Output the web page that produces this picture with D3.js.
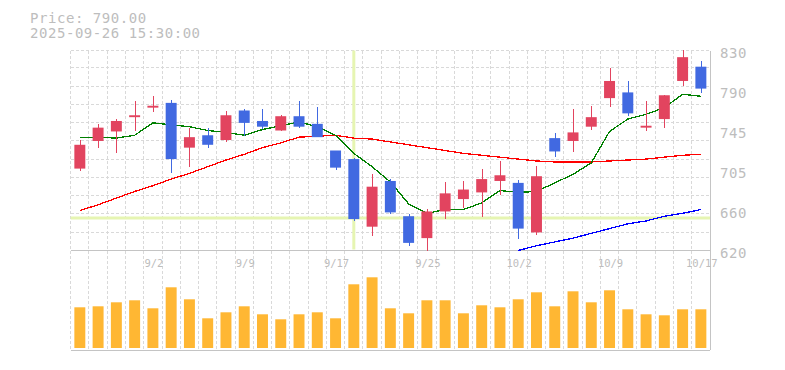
<!DOCTYPE html>
<html>
<head>
<meta charset="utf-8">
<script src="https://cdn.jsdelivr.net/npm/d3@7"></script>
<style>
  body { margin: 0; background: #fff; }
  text { font-family: "DejaVu Sans Mono", monospace; fill: #bdbdbd; }
</style>
</head>
<body>
<div id="chart"></div>
<script>
// data
var dates = ["8/27","8/28","8/29","9/1","9/2","9/3","9/4","9/5","9/8","9/9","9/10","9/11",
  "9/12","9/16","9/17","9/18","9/19","9/22","9/24","9/25","9/26","9/29","9/30","10/1",
  "10/2","10/3","10/6","10/7","10/8","10/9","10/10","10/14","10/15","10/16","10/17"];
var open  = [706,735,745,760,770,775,728,741,736,767,756,746,761,753,725,716,645,693,656,633,661,674,681,693,691,639,738,735,750,780,786,749,758,798,813];
var high  = [736,753,758,777,782,778,749,749,767,769,769,762,777,771,725,717,700,695,658,664,692,693,706,714,694,709,743,769,772,812,798,777,783,831,819];
var low   = [704,728,722,746,765,701,708,728,734,740,748,746,749,739,705,651,635,658,625,620,653,665,655,678,632,636,718,723,747,771,761,745,749,793,785];
var close = [731,749,756,762,772,716,739,731,762,754,750,761,750,739,707,653,687,660,628,661,680,684,695,699,643,698,724,744,760,798,764,751,783,823,790];
var volume = [40.7,41.7,45.7,47.7,39.7,60.7,48.7,29.7,35.7,41.7,33.7,28.7,33.7,35.7,29.7,63.7,70.7,39.7,34.7,47.7,47.7,34.7,42.7,40.7,48.7,55.7,41.7,56.7,45.7,57.7,38.7,33.7,32.7,38.7,38.7];
var ma5  = [739,739,738,741,754,752,750,746,744,741,747,751,755,750,741,722,708,692,669,659,663,663,670,683,681,682,691,700,712,745,758,763,770,784,782];
var ma25 = [662,668,675,682,688,695,701,708,715,721,728,733,739,740,741,738,737,734,731,728,725,722,720,718,716,714,713,713,713,714,715,716,718,720,721];
var ma75 = [null,null,null,null,null,null,null,null,null,null,null,null,null,null,null,null,null,null,null,null,null,null,null,null,
  620,625,629,633,638,643,648,651,656,659,663];
var xTicks = ["9/2","9/9","9/17","9/25","10/2","10/9","10/17"];
var yTicks = [620,662,704,746,788,830];
var cursorDate = "9/18";
var cursorPrice = 654;

var svgWidth = 785;
var svgHeight = 370;
var left = 70.7, right = 710;
var priceTop = 50.5, priceBottom = 250.5;
var volBottom = 348;

var svg = d3.select("#chart")
  .append("svg")
  .attr("width", svgWidth)
  .attr("height", svgHeight);

var x = d3.scaleBand()
  .domain(dates)
  .range([left, right])
  .paddingInner(0.4)
  .paddingOuter(0.2);
var step = x.step();
var cx = d => x(d) + x.bandwidth() / 2;

var y = d3.scaleLinear().domain([620, 830]).range([priceBottom, priceTop]);
var yVol = d3.scaleLinear().domain([0, 100]).range([volBottom, volBottom - 100]);

// grid
var grid = svg.append("g")
  .attr("stroke", "#d9d9d9")
  .attr("stroke-dasharray", "3,2")
  .attr("shape-rendering", "crispEdges");

d3.range(dates.length).forEach(function(i) {
  var gx = left + i * step;
  grid.append("line").attr("x1", gx).attr("x2", gx).attr("y1", priceTop).attr("y2", 350);
});
for (var gy = priceBottom - step; gy > priceTop + 2; gy -= step) {
  grid.append("line").attr("x1", left).attr("x2", right).attr("y1", gy).attr("y2", gy);
}
grid.append("line").attr("x1", left).attr("x2", right).attr("y1", priceTop).attr("y2", priceTop);

// cursor lines
svg.append("line")
  .attr("x1", cx(cursorDate)).attr("x2", cx(cursorDate))
  .attr("y1", priceTop).attr("y2", priceBottom - 1)
  .attr("stroke", "#e6f5b2").attr("stroke-width", 3);
svg.append("line")
  .attr("x1", left).attr("x2", right)
  .attr("y1", y(cursorPrice)).attr("y2", y(cursorPrice))
  .attr("stroke", "#e6f5b2").attr("stroke-width", 3);

// axis frame
var frame = svg.append("g").attr("stroke", "#c4c4c4").attr("shape-rendering", "crispEdges");
frame.append("line").attr("x1", left).attr("x2", right).attr("y1", priceBottom).attr("y2", priceBottom);
frame.append("line").attr("x1", left).attr("x2", right).attr("y1", 350).attr("y2", 350);
frame.append("line").attr("x1", right).attr("x2", right).attr("y1", priceTop).attr("y2", 350);

// moving averages
function maLine(vals, color) {
  var line = d3.line()
    .defined(d => d[1] != null)
    .x(d => cx(d[0]))
    .y(d => y(d[1]));
  svg.append("path")
    .datum(dates.map((d, i) => [d, vals[i]]))
    .attr("d", line)
    .attr("fill", "none")
    .attr("stroke", color)
    .attr("stroke-width", 1.3)
    .attr("shape-rendering", "crispEdges");
}
maLine(ma25, "#ff0000");
maLine(ma75, "#0000ff");
maLine(ma5, "#008000");

// candles
var candles = svg.append("g").selectAll("g")
  .data(dates)
  .enter().append("g");

candles.append("line")
  .attr("x1", d => Math.round(cx(d)) + 0.5)
  .attr("x2", d => Math.round(cx(d)) + 0.5)
  .attr("y1", (d, i) => y(high[i]))
  .attr("y2", (d, i) => y(low[i]))
  .attr("stroke", (d, i) => close[i] >= open[i] ? "#e2445f" : "#4169e1")
  .attr("stroke-width", 1.5)
  .attr("shape-rendering", "crispEdges");

candles.append("rect")
  .attr("x", d => x(d))
  .attr("width", x.bandwidth())
  .attr("y", (d, i) => y(Math.max(open[i], close[i])))
  .attr("height", (d, i) => Math.max(1.5, Math.abs(y(open[i]) - y(close[i]))))
  .attr("fill", (d, i) => close[i] >= open[i] ? "#e2445f" : "#4169e1");

// volume
svg.append("g").selectAll("rect")
  .data(dates)
  .enter().append("rect")
  .attr("x", d => x(d))
  .attr("width", x.bandwidth())
  .attr("y", (d, i) => yVol(volume[i]))
  .attr("height", (d, i) => yVol(0) - yVol(volume[i]))
  .attr("fill", "#ffb733");

// y labels
svg.append("g").selectAll("text")
  .data(yTicks)
  .enter().append("text")
  .attr("x", 720)
  .attr("y", d => y(d) + 7)
  .attr("font-size", 14)
  .attr("letter-spacing", 0.6)
  .text(d => Math.round(d / 5) * 5);

// x labels
svg.append("g").selectAll("text")
  .data(xTicks)
  .enter().append("text")
  .attr("x", d => cx(d) + 1)
  .attr("y", 266.5)
  .attr("text-anchor", "middle")
  .attr("font-size", 10.5)
  .text(d => d);

// header
svg.append("text").attr("x", 30).attr("y", 22.5).attr("font-size", 14).attr("letter-spacing", 0.55)
  .text("Price: 790.00");
svg.append("text").attr("x", 30).attr("y", 37.5).attr("font-size", 14).attr("letter-spacing", 0.55)
  .text("2025-09-26 15:30:00");
</script>
</body>
</html>
